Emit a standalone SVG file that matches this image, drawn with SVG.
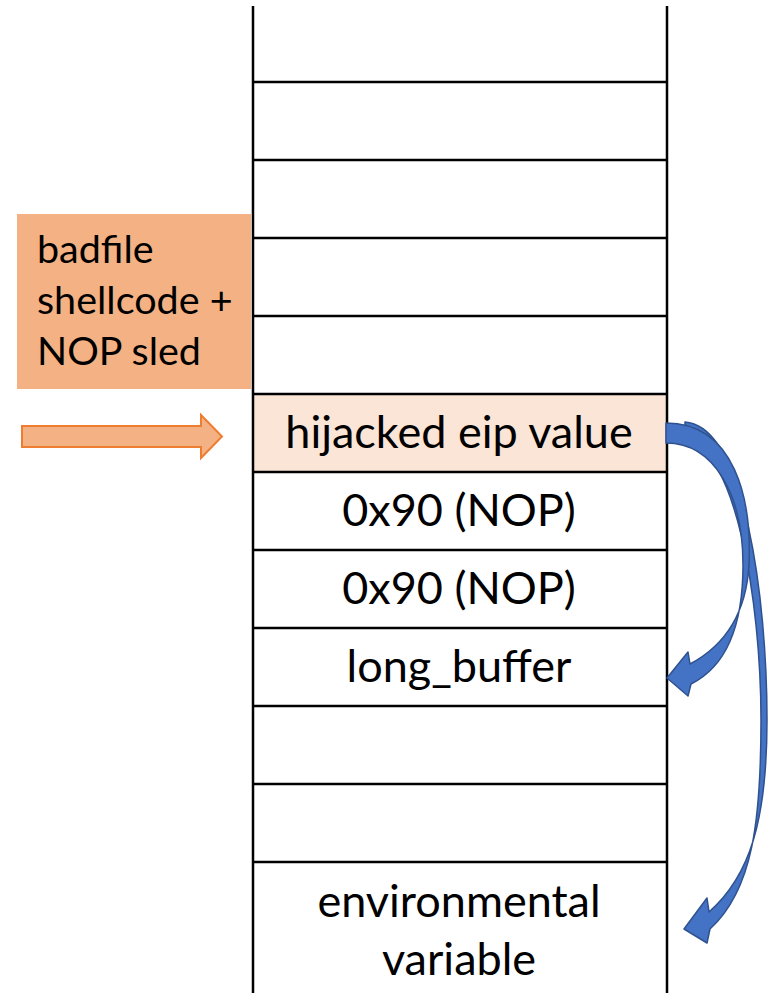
<svg xmlns="http://www.w3.org/2000/svg" width="768" height="993" viewBox="0 0 768 993">
  <style>
    .cell { fill: #FFFFFF; stroke: none; }
    .hot { fill: #FBE5D6; }
    .grid { stroke: #000000; stroke-width: 2.5; fill: none; }
    .lbl { font-family: Lato, "Open Sans", "Liberation Sans", sans-serif; font-size: 45px; fill: #000000; text-anchor: middle; }
    .src { font-family: Lato, "Open Sans", "Liberation Sans", sans-serif; font-size: 39.5px; fill: #000000; }
    .jump { fill: #4472C4; stroke: #2F528F; stroke-width: 1.5; stroke-linejoin: round; }
    .feed { fill: #F4B183; stroke: #ED7D31; stroke-width: 2; }
  </style>
  <rect width="768" height="993" fill="#FFFFFF"/>

  <!-- source file block -->
  <g id="badfile">
    <rect x="17" y="214" width="234" height="175" fill="#F4B183"/>
    <text class="src" x="37" y="263">badfile</text>
    <text class="src" x="37" y="314">shellcode +</text>
    <text class="src" x="37" y="365">NOP sled</text>
  </g>

  <!-- stack frame cells -->
  <g id="slot-hijacked-eip">
    <rect class="hot" x="253" y="394" width="414" height="78"/>
    <text class="lbl" x="459" y="448">hijacked eip value</text>
  </g>
  <g id="slot-nop-1">
    <text class="lbl" x="459" y="526">0x90 (NOP)</text>
  </g>
  <g id="slot-nop-2">
    <text class="lbl" x="459" y="604">0x90 (NOP)</text>
  </g>
  <g id="slot-long-buffer">
    <text class="lbl" x="459" y="682">long_buffer</text>
  </g>
  <g id="slot-env">
    <text class="lbl" x="459" y="917">environmental</text>
    <text class="lbl" x="459" y="975">variable</text>
  </g>

  <!-- stack outline -->
  <g id="stack-grid" class="grid">
    <line x1="253" y1="6" x2="253" y2="993"/>
    <line x1="667" y1="6" x2="667" y2="993"/>
    <line x1="253" y1="82" x2="667" y2="82"/>
    <line x1="253" y1="160" x2="667" y2="160"/>
    <line x1="253" y1="238" x2="667" y2="238"/>
    <line x1="253" y1="316" x2="667" y2="316"/>
    <line x1="253" y1="394" x2="667" y2="394"/>
    <line x1="253" y1="472" x2="667" y2="472"/>
    <line x1="253" y1="550" x2="667" y2="550"/>
    <line x1="253" y1="628" x2="667" y2="628"/>
    <line x1="253" y1="706" x2="667" y2="706"/>
    <line x1="253" y1="784" x2="667" y2="784"/>
    <line x1="253" y1="862" x2="667" y2="862"/>
  </g>

  <g id="connectors">
    <!-- input arrow into the return-address slot -->
    <path class="feed" d="M22,426 L201,426 L201,415 L222,436.5 L201,458 L201,447 L22,447 Z"/>
    <!-- jump to the environment variable -->
    <path class="jump" d="M685,422 C745,426 767,600 767,720 C767,820 750,876 709,912 L707,898 L684,929 L707,943 L710,929 C753,890 761,820 761,720 C761,600 735,446 685,440 Z"/>
    <!-- jump to long_buffer -->
    <path class="jump" d="M666,423 C735,423 752,500 749,565 C746,615 724,646 690,664 L688,652 L667,678 L688,696 L691,684 C731,664 743,615 743,565 C743,496 715,443 666,443 Z"/>
  </g>
</svg>
